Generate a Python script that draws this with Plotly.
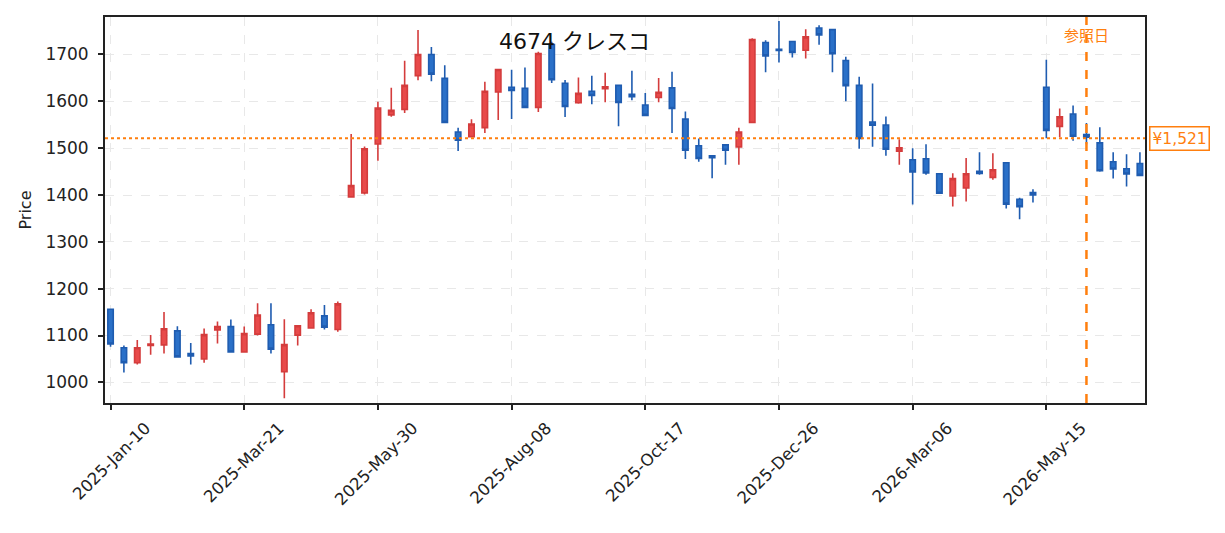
import pandas as pd
import plotly.graph_objects as go

start_date = "2025-01-10"
n_weeks = 78

opens = [1156, 1074, 1042, 1079, 1080, 1110, 1061.5, 1050, 1112, 1119,
         1065, 1103, 1123, 1022.6, 1101, 1116, 1142, 1113, 1396, 1404.5,
         1509, 1571, 1582.7, 1654.8, 1700, 1649, 1534.6, 1524.7, 1543.8, 1620,
         1630, 1628, 1587, 1721, 1638.5, 1597, 1621.6, 1627, 1634, 1615,
         1592, 1608, 1628.6, 1562, 1505, 1483.7, 1507, 1502.8, 1555, 1725.5,
         1711, 1727.6, 1709, 1756.6, 1753, 1687, 1634, 1555.8, 1549.5, 1493.6,
         1475.2, 1477.3, 1445.5, 1398, 1415, 1450.5, 1437.7, 1468.9, 1391, 1405,
         1630, 1546.6, 1572.8, 1529, 1511.3, 1471, 1456, 1467.4]
highs = [1157, 1079, 1090.5, 1101, 1150, 1120, 1084, 1115, 1130, 1134,
         1119.5, 1169, 1169, 1135, 1121, 1156, 1165, 1172.5, 1530, 1503.5,
         1599, 1629, 1686.6, 1752, 1716, 1677, 1543.8, 1561.5, 1642, 1668,
         1667.5, 1672, 1705.7, 1727, 1645.6, 1650.6, 1654.8, 1661, 1634, 1665,
         1618, 1650, 1663, 1578.4, 1520.5, 1483.7, 1507, 1543.8, 1734.7, 1730.5,
         1771.5, 1727.6, 1753.8, 1762.3, 1753, 1695, 1652.7, 1637.8, 1567.8, 1519,
         1500, 1508.4, 1445.5, 1446.2, 1478.8, 1491.5, 1489.4, 1469, 1394, 1412.3,
         1688.8, 1584.8, 1591.2, 1553.7, 1544.5, 1491.5, 1487, 1491.5]
lows = [1076, 1021, 1038, 1059, 1061.5, 1054, 1038, 1042, 1083, 1065,
        1065, 1100, 1061.5, 966, 1078.5, 1116, 1113, 1108, 1396, 1401,
        1473, 1567, 1575, 1645, 1643, 1555, 1494, 1524.7, 1532.5, 1560,
        1562, 1587, 1577, 1639, 1566.4, 1594.7, 1594, 1598, 1547, 1602.5,
        1570, 1598, 1532.5, 1477, 1471, 1436, 1464.6, 1464.6, 1555, 1662,
        1683, 1693.7, 1691.6, 1721, 1662, 1600.4, 1498.6, 1502.8, 1483.7, 1464.6,
        1379.8, 1443.4, 1403.8, 1375.5, 1386, 1443.4, 1432.8, 1371.3, 1348, 1384,
        1521, 1524, 1516, 1508.4, 1449.8, 1435, 1418, 1440]
closes = [1082, 1042, 1074, 1082, 1114.5, 1054.5, 1056.6, 1102, 1119, 1065,
          1104, 1144, 1071, 1080.6, 1121, 1148.5, 1118, 1167.6, 1420, 1498.6,
          1585.5, 1580.6, 1634, 1700, 1658, 1555, 1517, 1551.6, 1621.6, 1668,
          1623, 1587, 1702, 1646, 1589, 1617, 1612.4, 1630.8, 1597.5, 1610,
          1570, 1619.5, 1584.8, 1495.7, 1478, 1479.5, 1495.7, 1534.6, 1732, 1697,
          1708.5, 1704.3, 1737.5, 1741.8, 1701.5, 1633.6, 1520.5, 1548.8, 1497.8, 1500.7,
          1449, 1447, 1403.8, 1435, 1445.5, 1446.2, 1454, 1380.5, 1374.8, 1400,
          1538, 1567, 1525.4, 1523.3, 1451.9, 1455.4, 1444.8, 1442]

tick_dates = ["2025-01-10", "2025-03-21", "2025-05-30", "2025-08-08",
              "2025-10-17", "2025-12-26", "2026-03-06", "2026-05-15"]
y_ticks = [1000, 1100, 1200, 1300, 1400, 1500, 1600, 1700]

title_text = "4674 クレスコ"
ref_date = "2026-06-05"
ref_price = 1521
ref_label = "参照日"
price_label = "¥1,521"

dates = pd.date_range(start_date, periods=n_weeks, freq="7D")

ORANGE = "#ff7f0e"
FONT = "DejaVu Sans, Noto Sans CJK JP"

fig = go.Figure()
fig.add_trace(go.Candlestick(
    x=dates, open=opens, high=highs, low=lows, close=closes,
    increasing=dict(fillcolor="#e84a4a", line=dict(color="#d43c3c", width=1.6)),
    decreasing=dict(fillcolor="#2a70c8", line=dict(color="#1f5cb0", width=1.6)),
    whiskerwidth=0,
    showlegend=False,
))

fig.add_shape(type="line", xref="paper", yref="y", x0=0, x1=1,
              y0=ref_price, y1=ref_price,
              line=dict(color=ORANGE, width=2, dash="dot"))
fig.add_shape(type="line", xref="x", yref="paper", x0=ref_date, x1=ref_date,
              y0=0, y1=1, line=dict(color=ORANGE, width=2.5, dash="dash"))

fig.add_annotation(x=0.4515, y=0.9356, xref="paper", yref="paper",
                   text=title_text, showarrow=False, xanchor="center",
                   yanchor="middle", font=dict(family=FONT, size=22, color="#111"))
fig.add_annotation(x=ref_date, y=0.951, xref="x", yref="paper",
                   text=ref_label, showarrow=False, xanchor="center",
                   yanchor="middle", font=dict(family=FONT, size=15, color=ORANGE))
fig.add_annotation(x=1.004, y=ref_price, xref="paper", yref="y",
                   text=price_label, showarrow=False, xanchor="left",
                   yanchor="middle", bgcolor="white", bordercolor=ORANGE,
                   borderwidth=1.5, borderpad=2,
                   font=dict(family=FONT, size=15.5, color=ORANGE))

x0 = pd.Timestamp(start_date) - pd.Timedelta(days=2.9)
x1 = dates[-1] + pd.Timedelta(days=2.66)

fig.update_layout(
    width=1217, height=525,
    margin=dict(l=97, r=80, t=7, b=130),
    paper_bgcolor="white", plot_bgcolor="white",
    font=dict(family=FONT, size=17, color="#222"),
    boxgap=0.42,
    xaxis=dict(
        type="date", range=[x0, x1], rangeslider=dict(visible=False),
        tickvals=[pd.Timestamp(d) for d in tick_dates],
        tickformat="%Y-%b-%d", tickangle=-45, ticklabelshift=35,
        ticklabelstandoff=2,
        ticks="outside", ticklen=5, tickwidth=1.5, tickcolor="#222",
        showline=True, linecolor="#222", linewidth=1.8, mirror=True,
        showgrid=True, gridcolor="#e8e8e8", griddash="dash", gridwidth=1.2,
        zeroline=False, tickfont=dict(size=16.5),
    ),
    yaxis=dict(
        range=[956, 1780], tickvals=y_ticks,
        ticks="outside", ticklen=5, tickwidth=1.5, tickcolor="#222",
        ticklabelstandoff=6,
        showline=True, linecolor="#222", linewidth=1.8, mirror=True,
        showgrid=True, gridcolor="#e8e8e8", griddash="dash", gridwidth=1.2,
        zeroline=False, tickfont=dict(size=17),
        title=dict(text="Price", font=dict(size=16), standoff=10),
    ),
)

fig.write_html("out.html")
